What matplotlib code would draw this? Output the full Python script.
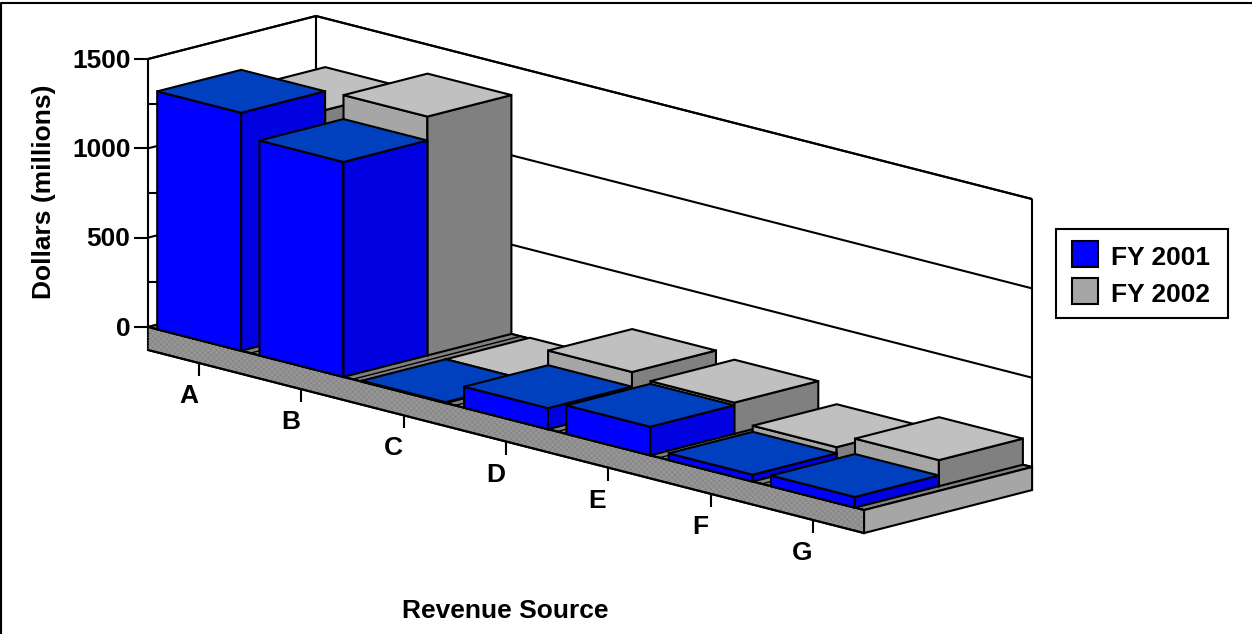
import matplotlib
matplotlib.use('Agg')
import matplotlib.pyplot as plt
from matplotlib.patches import Polygon, Rectangle

plt.rcParams['font.family'] = ['Liberation Sans', 'DejaVu Sans']
plt.rcParams['hatch.linewidth'] = 0.4

# values, dollars in millions
categories = ['A', 'B', 'C', 'D', 'E', 'F', 'G']
fy2001 = [1332, 1203, 5, 118, 160, 38, 60]
fy2002 = [1227, 1337, 5, 200, 175, 72, 146]
series_names = ['FY 2001', 'FY 2002']
y_ticks = [0, 500, 1000, 1500]
y_minor = [250, 750, 1250]

# colours: front, side, top
blue = ('#0000FF', '#0000E0', '#0040BF')
gray = ('#A6A6A6', '#808080', '#C0C0C0')

# oblique projection, output is in pixels of the picture
ORIGIN = (148.0, 327.0)
CAT_STEP = (102.3, 26.15)
DEPTH_STEP = (84.0, -21.5)
PX_PER_UNIT = 268.0 / 1500
BAR_GAP = 0.09
SLAB = 23.0
LW = 1.5
FONT = 19


def proj(c, d, v=0.0):
    x = ORIGIN[0] + c * CAT_STEP[0] + d * DEPTH_STEP[0]
    y = ORIGIN[1] + c * CAT_STEP[1] + d * DEPTH_STEP[1] - v * PX_PER_UNIT
    return x, y


def face(ax, pts, color):
    ax.add_patch(Polygon(pts, closed=True, facecolor=color, edgecolor='black',
                         linewidth=LW, joinstyle='miter', zorder=1))


# zorder 1 like the patches so everything paints in call order
def line(ax, p, q, lw=LW):
    ax.plot([p[0], q[0]], [p[1], q[1]], color='black', linewidth=lw,
            solid_capstyle='butt', zorder=1)


def bar3d(ax, i, depth, value, colors):
    c0 = i + BAR_GAP
    c1 = i + 1 - BAR_GAP
    d0 = depth
    d1 = depth + 1
    face(ax, [proj(c0, d0), proj(c1, d0), proj(c1, d0, value), proj(c0, d0, value)], colors[0])
    face(ax, [proj(c1, d0), proj(c1, d1), proj(c1, d1, value), proj(c1, d0, value)], colors[1])
    face(ax, [proj(c0, d0, value), proj(c1, d0, value), proj(c1, d1, value), proj(c0, d1, value)], colors[2])


fig = plt.figure(figsize=(12.52, 6.34), dpi=100)
ax = fig.add_axes([0, 0, 1, 1])
ax.set_xlim(0, 1252)
ax.set_ylim(634, 0)
ax.axis('off')

# outer frame, only left and top show in the original
ax.plot([1, 1, 1252], [634, 3, 3], color='black', linewidth=LW, zorder=1)

n = len(categories)
top = y_ticks[-1]

# walls
line(ax, proj(0, 0), proj(0, 0, top))
line(ax, proj(0, 0, top), proj(0, 2, top))
line(ax, proj(0, 2), proj(0, 2, top))
line(ax, proj(0, 2, top), proj(n, 2, top))
line(ax, proj(n, 2), proj(n, 2, top))
for t in y_ticks:
    x, y = proj(0, 0, t)
    line(ax, (x - 14, y), (x, y))
    line(ax, proj(0, 0, t), proj(0, 2, t))
    line(ax, proj(0, 2, t), proj(n, 2, t))
    ax.text(x - 17.5, y + 1.5, str(t), ha='right', va='center', fontsize=FONT, fontweight='bold')
for t in y_minor:
    x, y = proj(0, 0, t)
    line(ax, (x, y), (x + 9, y))

# floor slab
face(ax, [proj(0, 0), proj(n, 0), proj(n, 2), proj(0, 2)], '#808080')
x0, y0 = proj(0, 0)
x1, y1 = proj(n, 0)
x2, y2 = proj(n, 2)
front = [(x0, y0), (x1, y1), (x1, y1 + SLAB), (x0, y0 + SLAB)]
face(ax, front, '#969696')
ax.add_patch(Polygon(front, closed=True, facecolor='none', edgecolor='#808080',
                     linewidth=0, hatch='xxxxxx', zorder=1))
line(ax, front[0], front[1])
line(ax, front[3], front[2])
face(ax, [(x1, y1), (x2, y2), (x2, y2 + SLAB), (x1, y1 + SLAB)], '#A6A6A6')
for i in range(1, n):
    line(ax, proj(i, 0), proj(i, 2), lw=1.0)

# bars, painted back to front
for i in range(n):
    bar3d(ax, i, 1, fy2002[i], gray)
    bar3d(ax, i, 0, fy2001[i], blue)

# category ticks and labels
for i, name in enumerate(categories):
    x, y = proj(i + 0.5, 0)
    y = y + SLAB
    line(ax, (x, y), (x, y + 13))
    ax.text(x - 10.8, y + 33, name, ha='center', va='center', fontsize=FONT, fontweight='bold')

ax.text(505.5, 611, 'Revenue Source', ha='center', va='center', fontsize=FONT, fontweight='bold')
ax.text(44, 192, 'Dollars (millions)', ha='center', va='center', rotation=90,
        fontsize=FONT, fontweight='bold')

# legend
ax.add_patch(Rectangle((1056, 229), 172, 89, facecolor='white', edgecolor='black', linewidth=LW, zorder=1))
swatches = [blue[0], gray[0]]
for k, name in enumerate(series_names):
    sy = 241 + k * 37
    ax.add_patch(Rectangle((1072, sy), 26, 26, facecolor=swatches[k], edgecolor='black', linewidth=LW, zorder=1))
    ax.text(1111, sy + 17, name, ha='left', va='center', fontsize=FONT, fontweight='bold')

fig.savefig('out.png', dpi=100)
